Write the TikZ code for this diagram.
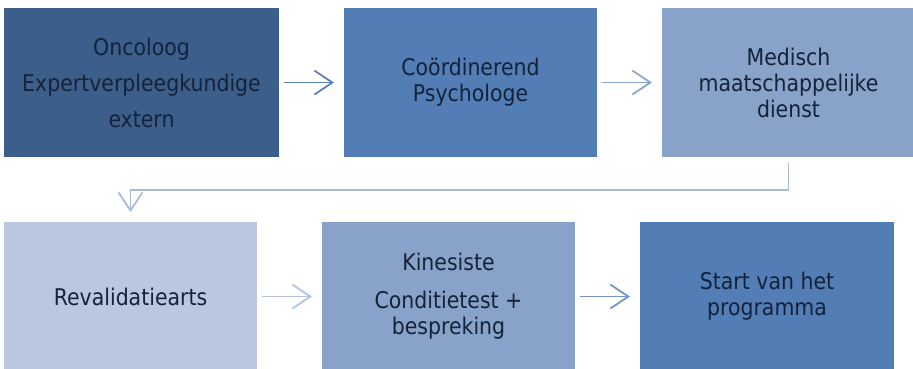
\documentclass[tikz,border=0pt]{standalone}
\usepackage{fontspec}
\setmainfont{DejaVu Sans}[FakeStretch=0.89]
\usetikzlibrary{arrows.meta}
\definecolor{cA}{HTML}{3B5F8A}
\definecolor{cB}{HTML}{527DB5}
\definecolor{cC}{HTML}{88A2C9}
\definecolor{cD}{HTML}{BAC7DF}
\definecolor{txt}{HTML}{15223A}
\definecolor{aA}{HTML}{5A82B8}
\definecolor{aB}{HTML}{8AA4CA}
\definecolor{aC}{HTML}{A9BADA}
\definecolor{aD}{HTML}{B4C3DF}
\definecolor{aE}{HTML}{7594C4}
\tikzset{
  box/.style={rectangle, inner sep=0pt, outer sep=0pt, minimum height=149pt, text=txt, align=center, font=\fontsize{23}{26}\selectfont},
  flow/.style={line width=1.8pt, -{Straight Barb[length=18pt,width=24pt,line width=1.8pt]}, shorten <=5pt, shorten >=10pt},
}
\begin{document}
\begin{tikzpicture}[x=1pt,y=-1pt]
\useasboundingbox (0,0) rectangle (913,368);
\clip (0,0) rectangle (913,368);
\node[box, fill=cA, minimum width=275pt] (b1) at (141.5,82.5) {Oncoloog\\[10pt]Expertverpleegkundige\\[10pt]extern};
\node[box, fill=cB, minimum width=253pt] (b2) at (470.5,82.5) {Coördinerend\\Psychologe};
\node[box, fill=cC, minimum width=253pt] (b3) at (788.5,82.5) {Medisch\\maatschappelijke\\dienst};
\node[box, fill=cD, minimum width=253pt] (b4) at (130.5,296.5) {Revalidatiearts};
\node[box, fill=cC, minimum width=253pt] (b5) at (448.5,296.5) {Kinesiste\\[12pt]Conditietest +\\bespreking};
\node[box, fill=cB, minimum width=254pt] (b6) at (767,296.5) {Start van het\\programma};
\draw[flow, draw=aA] (b1.east) -- (b2.west);
\draw[flow, draw=aB] (b2.east) -- (b3.west);
\coordinate (elb) at (788.5,190);
\draw[flow, draw=aC, shorten <=6pt] (b3.south) -- (elb) -| (b4.north);
\draw[flow, draw=aD] (b4.east) -- (b5.west);
\draw[flow, draw=aE] (b5.east) -- (b6.west);
\end{tikzpicture}
\end{document}
